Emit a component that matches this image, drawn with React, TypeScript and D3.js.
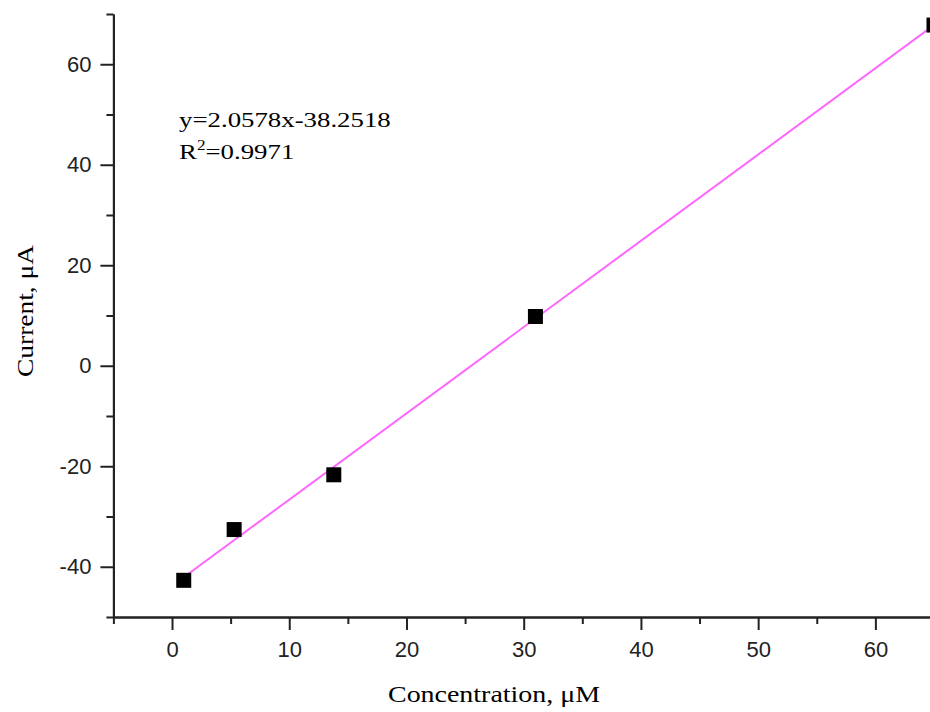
import React, { useRef, useEffect } from "react";
import * as d3 from "d3";

// data
const concentration = [1, 5.3, 13.8, 31, 65];
const current = [-42.7, -32.6, -21.7, 9.8, 67.8];
// fitted line as drawn (end points)
const fitX = [1, 65];
const fitY = [-42.1, 67.8];

const xMajor = [0, 10, 20, 30, 40, 50, 60];
const xMinor = [-5, 5, 15, 25, 35, 45, 55, 65];
const yMajor = [-40, -20, 0, 20, 40, 60];
const yMinor = [-50, -30, -10, 10, 30, 50, 70];

const equation = "y=2.0578x-38.2518";
const rSquared = "0.9971";

const sans = "Arial, 'Liberation Sans', Helvetica, sans-serif";
const serif = "'Times New Roman', 'Liberation Serif', Times, serif";
const ink = "#222";

export default function App() {
  const ref = useRef<SVGSVGElement>(null);

  useEffect(() => {
    const width = 930;
    const height = 712;
    const svg = d3.select(ref.current);
    svg.selectAll("*").remove();

    const x = d3.scaleLinear().domain([-5, 65]).range([113.4, 934]);
    const y = d3.scaleLinear().domain([-50, 70]).range([617, 14]);

    svg.append("rect").attr("width", width).attr("height", height).attr("fill", "#fff");

    // axes: major + minor ticks
    const styleAxis = (g: d3.Selection<SVGGElement, unknown, null, undefined>) => {
      g.select(".domain").attr("stroke", ink).attr("stroke-width", 2);
      g.selectAll(".tick line").attr("stroke", ink).attr("stroke-width", 2);
      g.selectAll(".tick text")
        .attr("fill", ink)
        .attr("font-family", sans)
        .attr("font-size", 22);
    };
    const fmt = (d: d3.NumberValue) => String(d);

    const xMinorG = svg.append("g")
      .attr("transform", `translate(0,${y(-50)})`)
      .call(d3.axisBottom(x).tickValues(xMinor).tickSize(7).tickSizeOuter(0).tickFormat(() => ""));
    styleAxis(xMinorG);
    const xMajorG = svg.append("g")
      .attr("transform", `translate(0,${y(-50)})`)
      .call(d3.axisBottom(x).tickValues(xMajor).tickSize(13).tickSizeOuter(0).tickPadding(11).tickFormat(fmt));
    styleAxis(xMajorG);

    const yMinorG = svg.append("g")
      .attr("transform", `translate(${x(-5)},0)`)
      .call(d3.axisLeft(y).tickValues(yMinor).tickSize(7).tickSizeOuter(0).tickFormat(() => ""));
    styleAxis(yMinorG);
    const yMajorG = svg.append("g")
      .attr("transform", `translate(${x(-5)},0)`)
      .call(d3.axisLeft(y).tickValues(yMajor).tickSize(13).tickSizeOuter(0).tickPadding(9).tickFormat(fmt));
    styleAxis(yMajorG);

    // fit line
    const line = d3.line<number>().x(d => x(d)).y((d, i) => y(fitY[i]));
    svg.append("path")
      .attr("d", line(fitX))
      .attr("fill", "none")
      .attr("stroke", "#ff66ff")
      .attr("stroke-width", 2);

    // square markers
    const s = 15;
    svg.selectAll("rect.pt")
      .data(concentration)
      .join("rect")
      .attr("class", "pt")
      .attr("x", d => x(d) - s / 2)
      .attr("y", (d, i) => y(current[i]) - s / 2)
      .attr("width", s)
      .attr("height", s)
      .attr("fill", "#000");

    // annotation (the original font is a bit wide, so stretch horizontally)
    const note = svg.append("g").attr("transform", "translate(179,0) scale(1.22,1)");
    note.append("text")
      .attr("x", 0)
      .attr("y", 127)
      .attr("font-family", serif)
      .attr("font-size", 22)
      .attr("fill", "#000")
      .text(equation);
    const r2 = note.append("text")
      .attr("x", 0)
      .attr("y", 159)
      .attr("font-family", serif)
      .attr("font-size", 22)
      .attr("fill", "#000");
    r2.append("tspan").text("R");
    r2.append("tspan").attr("dy", -9).attr("font-size", 14).text("2");
    r2.append("tspan").attr("dy", 9).text("=" + rSquared);

    // axis titles
    svg.append("text")
      .attr("x", 494)
      .attr("y", 702)
      .attr("text-anchor", "middle")
      .attr("font-family", serif)
      .attr("font-size", 23)
      .attr("fill", "#000")
      .attr("textLength", 212)
      .attr("lengthAdjust", "spacingAndGlyphs")
      .text("Concentration, μM");
    svg.append("text")
      .attr("transform", "translate(33,311) rotate(-90)")
      .attr("text-anchor", "middle")
      .attr("font-family", serif)
      .attr("font-size", 23)
      .attr("fill", "#000")
      .attr("textLength", 132)
      .attr("lengthAdjust", "spacingAndGlyphs")
      .text("Current, μA");
  }, []);

  return (
    <svg
      ref={ref}
      width={930}
      height={712}
      style={{ position: "absolute", left: 0, top: 0, display: "block" }}
    />
  );
}
